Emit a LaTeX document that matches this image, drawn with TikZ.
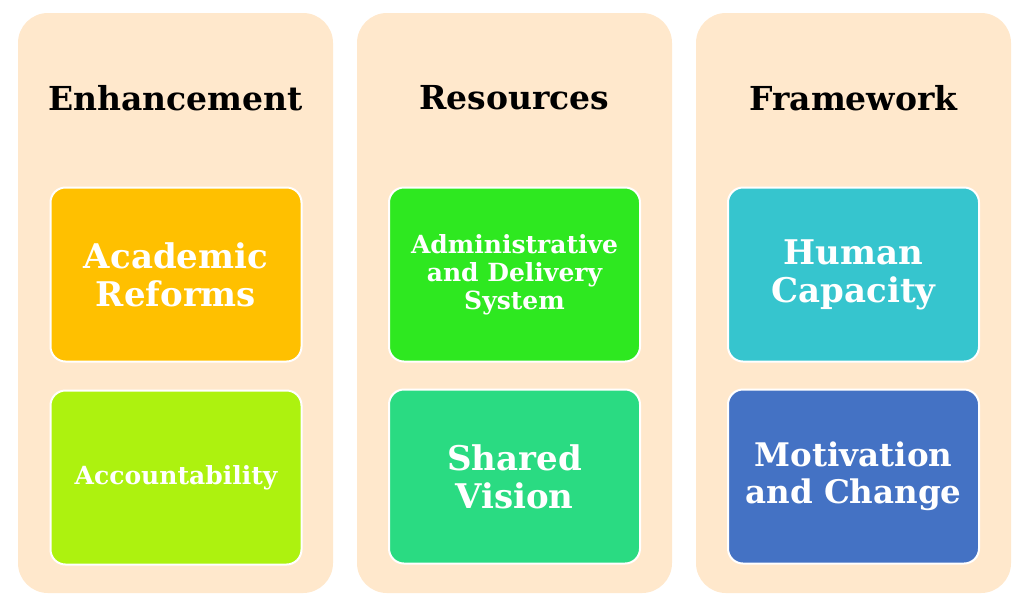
\documentclass[tikz,border=0pt]{standalone}
\usepackage{fontspec}
\setmainfont{DejaVu Serif}
\definecolor{panelfill}{RGB}{255,232,204}
\definecolor{cAcad}{RGB}{255,192,0}
\definecolor{cAcct}{RGB}{173,242,15}
\definecolor{cAdmin}{RGB}{46,232,32}
\definecolor{cShared}{RGB}{42,219,130}
\definecolor{cHuman}{RGB}{54,197,206}
\definecolor{cMotiv}{RGB}{68,114,196}
\tikzset{
  panel/.style={fill=panelfill, draw=none, rounded corners=30pt, minimum width=315pt, minimum height=580pt, inner sep=0pt},
  title/.style={text=black, font=\bfseries\fontsize{33}{38}\selectfont, inner sep=0pt},
  itembox/.style={draw=white, line width=2pt, rounded corners=15pt, minimum width=251pt, minimum height=174pt, inner sep=0pt, text=white, align=center},
  bigtext/.style={font=\bfseries\fontsize{34}{38}\selectfont},
  midtext/.style={font=\bfseries\fontsize{32.5}{37}\selectfont},
  smalltext/.style={font=\bfseries\fontsize{25}{28}\selectfont},
}
\begin{document}
\begin{tikzpicture}[x=1pt,y=-1pt]
\useasboundingbox (0,0) rectangle (1024,606);
\fill[white] (0,0) rectangle (1024,606);
% panels
\node[panel] (p1) at (175.5,303) {};
\node[panel] (p2) at (514.5,303) {};
\node[panel] (p3) at (853.5,303) {};
% titles
\node[title] (t1) at (175.5,98) {Enhancement};
\node[title] (t2) at (514.5,98) {Resources};
\node[title] (t3) at (853.5,98) {Framework};
% boxes
\node[itembox, fill=cAcad, bigtext] (b1) at (176,274.5) {Academic\\Reforms};
\node[itembox, fill=cAcct, smalltext] (b2) at (176,477.5) {Accountability};
\node[itembox, fill=cAdmin, smalltext] (b3) at (514.5,274.5) {Administrative\\and Delivery\\System};
\node[itembox, fill=cShared, bigtext] (b4) at (514.5,476.5) {Shared\\Vision};
\node[itembox, fill=cHuman, bigtext] (b5) at (853.5,274.5) {Human\\Capacity};
\node[itembox, fill=cMotiv, midtext] (b6) at (853.5,476.5) {Motivation\\and Change};
\end{tikzpicture}
\end{document}
